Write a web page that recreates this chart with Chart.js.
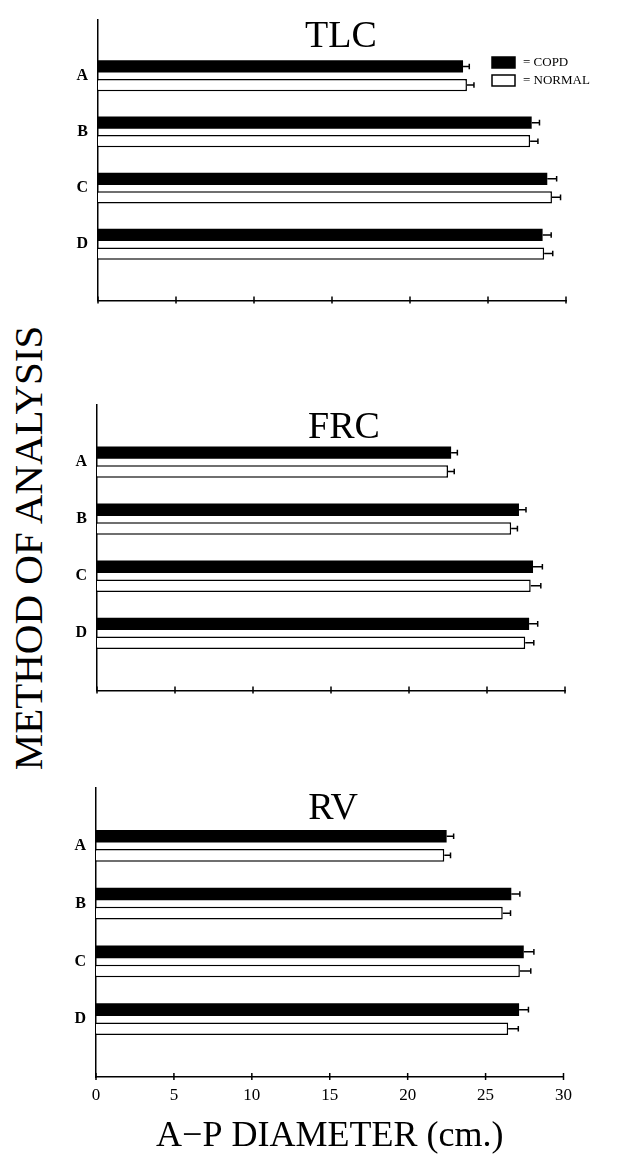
<!DOCTYPE html>
<html>
<head>
<meta charset="utf-8">
<title>A-P diameter by method of analysis</title>
<script src="https://cdn.jsdelivr.net/npm/chart.js@4.4.1/dist/chart.umd.min.js"></script>
<style>
  html, body { margin: 0; padding: 0; background: #fff; }
  body { width: 619px; height: 1156px; position: relative; overflow: hidden; }
  canvas { position: absolute; left: 0; }
  #yTitle {
    position: absolute; left: 28px; top: 548px;
    transform: translate(-50%, -50%) rotate(-90deg);
    font: 41px "Liberation Serif", "Times New Roman", serif;
    line-height: 1; white-space: nowrap; color: #000;
  }
</style>
</head>
<body>
<div id="yTitle">METHOD OF ANALYSIS</div>
<canvas id="tlc" width="619" height="320" style="top:0px"></canvas>
<canvas id="frc" width="619" height="330" style="top:380px"></canvas>
<canvas id="rv" width="619" height="396" style="top:760px"></canvas>
<script>
// Methods of analysis (rows) and the x-axis tick range
const methods = ['A', 'B', 'C', 'D'];
const xMin = 0, xMax = 30, xStep = 5;
const seriesNames = ['COPD', 'NORMAL'];

// TLC: mean A-P diameter (cm) and error bar length
const tlcCopd = [23.4, 27.8, 28.8, 28.5];
const tlcCopdErr = [0.4, 0.5, 0.6, 0.55];
const tlcNormal = [23.65, 27.7, 29.1, 28.6];
const tlcNormalErr = [0.45, 0.5, 0.55, 0.55];

// FRC
const frcCopd = [22.7, 27.05, 27.95, 27.7];
const frcCopdErr = [0.4, 0.45, 0.6, 0.55];
const frcNormal = [22.5, 26.55, 27.8, 27.45];
const frcNormalErr = [0.4, 0.4, 0.65, 0.55];

// RV
const rvCopd = [22.5, 26.65, 27.45, 27.15];
const rvCopdErr = [0.45, 0.55, 0.65, 0.6];
const rvNormal = [22.35, 26.1, 27.2, 26.45];
const rvNormalErr = [0.4, 0.5, 0.7, 0.65];

const SERIF = '"Liberation Serif", "Times New Roman", serif';

// one empty slot above and below the four rows
const rowLabels = [''].concat(methods, ['']);
const pad = arr => [null].concat(arr, [null]);

// horizontal error whiskers with a small end cap
const errorBars = {
  id: 'errorBars',
  afterDatasetsDraw(chart) {
    const ctx = chart.ctx, xs = chart.scales.x;
    chart.data.datasets.forEach((ds, di) => {
      const meta = chart.getDatasetMeta(di);
      meta.data.forEach((bar, i) => {
        const v = ds.data[i];
        const e = ds.errors ? ds.errors[i] : null;
        if (v == null || e == null) return;
        const x0 = xs.getPixelForValue(v);
        const x1 = xs.getPixelForValue(v + e);
        const y = bar.y;
        ctx.save();
        ctx.strokeStyle = '#000';
        ctx.lineWidth = 1.5;
        ctx.beginPath();
        ctx.moveTo(x0, y); ctx.lineTo(x1, y);
        ctx.moveTo(x1, y - 2.8); ctx.lineTo(x1, y + 2.8);
        ctx.stroke();
        ctx.restore();
      });
    });
  }
};

// tick marks that cross the x axis line
const crossTicks = {
  id: 'crossTicks',
  afterDraw(chart) {
    const ctx = chart.ctx, xs = chart.scales.x;
    const y = chart.chartArea.bottom;
    ctx.save();
    ctx.strokeStyle = '#000';
    ctx.lineWidth = 1.5;
    ctx.beginPath();
    xs.ticks.forEach(t => {
      const px = xs.getPixelForValue(t.value);
      ctx.moveTo(px, y - 4);
      ctx.lineTo(px, y + 3);
    });
    ctx.stroke();
    ctx.restore();
  }
};

// panel heading drawn inside the plot area
const panelTitle = {
  id: 'panelTitle',
  afterDraw(chart, args, opts) {
    if (!opts || !opts.text) return;
    const ctx = chart.ctx;
    ctx.save();
    ctx.fillStyle = '#000';
    ctx.font = '38px ' + SERIF;
    ctx.textAlign = 'center';
    ctx.textBaseline = 'alphabetic';
    ctx.fillText(opts.text, opts.x, chart.chartArea.top + opts.dy);
    ctx.restore();
  }
};

// key: filled / open box followed by "= name"
const boxKey = {
  id: 'boxKey',
  afterDraw(chart, args, opts) {
    if (!opts || !opts.show) return;
    const ctx = chart.ctx;
    ctx.save();
    chart.data.datasets.forEach((ds, i) => {
      const y = opts.y + i * opts.step;
      ctx.fillStyle = ds.backgroundColor;
      ctx.fillRect(opts.x, y, opts.w, opts.h);
      ctx.strokeStyle = '#000';
      ctx.lineWidth = 1.5;
      ctx.strokeRect(opts.x, y, opts.w, opts.h);
      ctx.fillStyle = '#000';
      ctx.font = '13px ' + SERIF;
      ctx.textAlign = 'left';
      ctx.textBaseline = 'middle';
      ctx.fillText('= ' + ds.label, opts.x + opts.w + 8, y + opts.h / 2 + 0.5);
    });
    ctx.restore();
  }
};

function makePanel(id, cfg) {
  const datasets = [
    {
      label: seriesNames[0],
      data: pad(cfg.copd),
      errors: pad(cfg.copdErr),
      backgroundColor: '#000',
      borderWidth: 0
    },
    {
      label: seriesNames[1],
      data: pad(cfg.normal),
      errors: pad(cfg.normalErr),
      backgroundColor: '#fff',
      borderColor: '#000',
      borderWidth: 1.5,
      borderSkipped: 'start'
    }
  ];
  return new Chart(document.getElementById(id), {
    type: 'bar',
    data: { labels: rowLabels, datasets },
    plugins: [errorBars, crossTicks, panelTitle, boxKey],
    options: {
      indexAxis: 'y',
      responsive: false,
      animation: false,
      categoryPercentage: 0.662,
      barPercentage: 0.66,
      layout: { padding: { top: cfg.padTop, right: cfg.padRight, bottom: 0, left: 0 } },
      scales: {
        x: {
          type: 'linear',
          min: xMin, max: xMax,
          grid: { display: false, drawTicks: false },
          border: { display: true, color: '#000', width: 1.5 },
          ticks: {
            display: cfg.showTicks,
            stepSize: xStep,
            color: '#000',
            padding: 8,
            font: { family: SERIF, size: 17 }
          },
          title: {
            display: cfg.showTicks,
            text: 'A\u2212P DIAMETER (cm.)',
            color: '#000',
            font: { family: SERIF, size: 36, lineHeight: 1 },
            padding: { top: 0, bottom: 1 }
          },
          afterFit(scale) { scale.height = cfg.xHeight; }
        },
        y: {
          type: 'category',
          offset: false,
          grid: { display: false, drawTicks: false },
          border: { display: true, color: '#000', width: 1.5 },
          ticks: {
            color: '#000',
            padding: 10,
            autoSkip: false,
            font: { family: SERIF, size: 16, weight: 'bold' }
          },
          afterFit(scale) { scale.width = cfg.left; }
        }
      },
      plugins: {
        legend: { display: false },
        tooltip: { enabled: false },
        panelTitle: { text: cfg.title, x: cfg.titleX, dy: cfg.titleDy },
        boxKey: cfg.key ? { show: true, x: 492, y: 57, w: 23, h: 11, step: 18 } : { show: false }
      }
    }
  });
}

makePanel('tlc', {
  title: 'TLC', titleX: 341, titleDy: 27,
  copd: tlcCopd, copdErr: tlcCopdErr, normal: tlcNormal, normalErr: tlcNormalErr,
  padTop: 15, padRight: 53, left: 98, xHeight: 18, showTicks: false, key: true
});
makePanel('frc', {
  title: 'FRC', titleX: 344, titleDy: 33,
  copd: frcCopd, copdErr: frcCopdErr, normal: frcNormal, normalErr: frcNormalErr,
  padTop: 25, padRight: 54, left: 97, xHeight: 18, showTicks: false, key: false
});
makePanel('rv', {
  title: 'RV', titleX: 333, titleDy: 31,
  copd: rvCopd, copdErr: rvCopdErr, normal: rvNormal, normalErr: rvNormalErr,
  padTop: 28, padRight: 55.5, left: 96, xHeight: 79, showTicks: true, key: false
});
</script>
</body>
</html>
